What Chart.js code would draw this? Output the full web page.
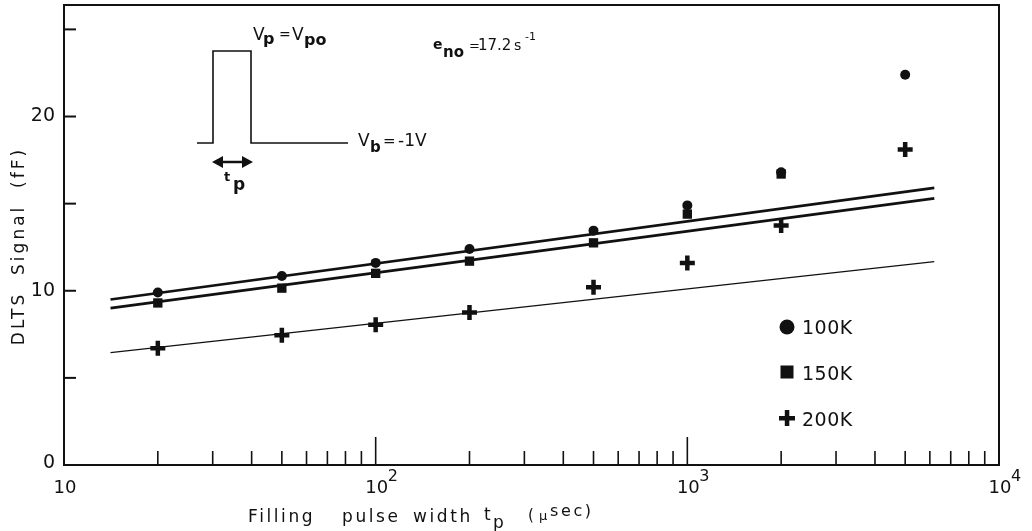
<!DOCTYPE html>
<html>
<head>
<meta charset="utf-8">
<script src="https://cdn.jsdelivr.net/npm/chart.js@4.4.1/dist/chart.umd.min.js"></script>
<style>
  html, body { margin: 0; padding: 0; background: #fff; }
  #wrap { width: 1032px; height: 531px; }
</style>
</head>
<body>
<div id="wrap"><canvas id="dltsChart"></canvas></div>
<script>
// filling pulse widths (µs)
const pulseWidths = [20, 50, 100, 200, 500, 1000, 2000, 5000];
// DLTS signal (fF) per temperature
const signal100K = [9.9, 10.85, 11.6, 12.4, 13.45, 14.9, 16.8, 22.4];
const signal150K = [9.3, 10.15, 11.0, 11.7, 12.75, 14.4, 16.7, null];
const signal200K = [6.7, 7.45, 8.05, 8.75, 10.2, 11.6, 13.75, 18.1];
// fitted straight lines, start and end
const fitX = [14.1, 6200];
const fit100K = [9.5, 15.9];
const fit150K = [9.0, 15.3];
const fit200K = [6.45, 11.67];
// axes
const xDecades = [10, 100, 1000, 10000];
const xDecadeExp = ['', '2', '3', '4'];
const yTicks = [5, 10, 15, 20, 25];
const yLabels = [0, 10, 20];

const INK = '#111';
const FONT = '"DejaVu Sans", sans-serif';

function toPoints(xs, ys) {
    return xs.map((x, i) => ({ x: x, y: ys[i] })).filter(p => p.y !== null);
}

// text pieces placed one by one: [text, x, baseline y, size, bold]
function drawPieces(ctx, pieces) {
    pieces.forEach(function (p) {
        ctx.font = (p[4] ? 'bold ' : '') + p[3] + 'px ' + FONT;
        ctx.fillText(p[0], p[1], p[2]);
    });
}

const decorations = {
    id: 'decorations',
    afterDatasetsDraw: function (chart) {
        const ctx = chart.ctx;
        const a = chart.chartArea;
        const xs = chart.scales.x, ys = chart.scales.y;
        ctx.save();
        ctx.strokeStyle = INK;
        ctx.fillStyle = INK;

        // frame
        ctx.lineWidth = 2;
        ctx.strokeRect(a.left, a.top, a.right - a.left, a.bottom - a.top);

        // x ticks, pointing up into the plot
        ctx.lineWidth = 1.6;
        [10, 100, 1000].forEach(function (d) {
            for (let k = 1; k <= 9; k++) {
                const v = d * k;
                if (v <= 10) continue;
                const px = xs.getPixelForValue(v);
                const len = k === 1 ? 28 : 14;
                ctx.beginPath();
                ctx.moveTo(px, a.bottom);
                ctx.lineTo(px, a.bottom - len);
                ctx.stroke();
            }
        });
        // y ticks
        ctx.lineWidth = 2;
        yTicks.forEach(function (v) {
            const py = ys.getPixelForValue(v);
            ctx.beginPath();
            ctx.moveTo(a.left, py);
            ctx.lineTo(a.left + 12, py);
            ctx.stroke();
        });

        // y labels
        ctx.font = '19px ' + FONT;
        ctx.textAlign = 'right';
        ctx.textBaseline = 'middle';
        yLabels.forEach(function (v) {
            ctx.fillText(String(v), a.left - 9, ys.getPixelForValue(v) - (v === 0 ? 2 : 0));
        });

        // x labels with exponents
        ctx.textBaseline = 'alphabetic';
        xDecades.forEach(function (v, i) {
            const px = xs.getPixelForValue(v);
            ctx.font = '18px ' + FONT;
            ctx.textAlign = 'center';
            ctx.fillText('10', px + 1, a.bottom + 28);
            if (xDecadeExp[i]) {
                ctx.font = '16px ' + FONT;
                ctx.textAlign = 'left';
                ctx.fillText(xDecadeExp[i], px + 12, a.bottom + 16);
            }
        });

        // axis titles
        ctx.textAlign = 'center';
        ctx.save();
        ctx.translate(20, 246);
        ctx.rotate(-Math.PI / 2);
        ctx.font = '17px ' + FONT;
        ctx.letterSpacing = '3px';
        ctx.textBaseline = 'middle';
        ctx.fillText('DLTS  Signal  (fF)', 0, 0);
        ctx.restore();

        ctx.textAlign = 'left';
        ctx.textBaseline = 'alphabetic';
        ctx.letterSpacing = '2.6px';
        ctx.font = '17px ' + FONT;
        ctx.fillText('Filling', 248, 522);
        ctx.fillText('pulse', 342, 522);
        ctx.fillText('width', 413, 522);
        ctx.fillText('t', 484, 520);
        ctx.fillText('p', 493, 528);
        ctx.font = '15px ' + FONT;
        ctx.fillText('(', 528, 520);
        ctx.font = '13px ' + FONT;
        ctx.fillText('\u03bc', 539, 520);
        ctx.font = '16px ' + FONT;
        ctx.fillText('sec)', 550, 516);
        ctx.letterSpacing = '0px';

        // pulse sketch
        ctx.lineWidth = 1.6;
        ctx.beginPath();
        ctx.moveTo(197, 143);
        ctx.lineTo(213, 143);
        ctx.lineTo(213, 51);
        ctx.lineTo(251, 51);
        ctx.lineTo(251, 143);
        ctx.lineTo(348, 143);
        ctx.stroke();
        // double arrow
        ctx.lineWidth = 2.5;
        ctx.beginPath();
        ctx.moveTo(219, 162);
        ctx.lineTo(246, 162);
        ctx.stroke();
        ctx.beginPath();
        ctx.moveTo(212, 162); ctx.lineTo(223, 156); ctx.lineTo(223, 168); ctx.closePath();
        ctx.moveTo(253, 162); ctx.lineTo(242, 156); ctx.lineTo(242, 168); ctx.closePath();
        ctx.fill();
        drawPieces(ctx, [['t', 224, 181, 13, true], ['p', 233, 190, 17, true]]);

        drawPieces(ctx, [
            ['V', 253, 40, 17], ['p', 263, 44, 16, true], ['=', 279, 39, 14],
            ['V', 292, 40, 17], ['po', 304, 45, 16, true]
        ]);
        drawPieces(ctx, [['V', 358, 146, 17], ['b', 370, 152, 15, true], ['=', 383, 146, 15], ['-1V', 398, 146, 17]]);
        drawPieces(ctx, [
            ['e', 433, 49, 14, true], ['no', 443, 57, 15, true], ['=', 469, 50, 13],
            ['17.2', 478, 50, 15], ['s', 514, 50, 14], ['-1', 525, 40, 11]
        ]);

        // legend
        const lx = 787;
        ctx.beginPath();
        ctx.arc(lx, 327, 7.5, 0, Math.PI * 2);
        ctx.fill();
        ctx.fillRect(lx - 6.5, 365.5, 13, 13);
        ctx.fillRect(lx - 8, 416, 16, 4.5);
        ctx.fillRect(lx - 2.2, 410, 4.5, 16);
        ctx.font = '19px ' + FONT;
        ctx.letterSpacing = '0.5px';
        ctx.fillText('100K', 802, 334);
        ctx.fillText('150K', 802, 380);
        ctx.fillText('200K', 802, 426);

        ctx.restore();
    }
};

new Chart(document.getElementById('dltsChart').getContext('2d'), {
    type: 'scatter',
    data: {
        datasets: [
            {
                label: '100K',
                data: toPoints(pulseWidths, signal100K),
                pointStyle: 'circle',
                pointRadius: 5,
                backgroundColor: INK,
                borderColor: INK,
                borderWidth: 0
            },
            {
                label: '150K',
                data: toPoints(pulseWidths, signal150K),
                pointStyle: 'rect',
                pointRadius: 6.6,
                backgroundColor: INK,
                borderColor: INK,
                borderWidth: 0
            },
            {
                label: '200K',
                data: toPoints(pulseWidths, signal200K),
                pointStyle: 'cross',
                pointRadius: 7.5,
                backgroundColor: INK,
                borderColor: INK,
                borderWidth: 4.5
            },
            {
                label: 'fit 100K',
                data: toPoints(fitX, fit100K),
                showLine: true,
                pointRadius: 0,
                borderColor: INK,
                borderWidth: 2.7
            },
            {
                label: 'fit 150K',
                data: toPoints(fitX, fit150K),
                showLine: true,
                pointRadius: 0,
                borderColor: INK,
                borderWidth: 2.7
            },
            {
                label: 'fit 200K',
                data: toPoints(fitX, fit200K),
                showLine: true,
                pointRadius: 0,
                borderColor: INK,
                borderWidth: 1.4
            }
        ]
    },
    options: {
        responsive: true,
        maintainAspectRatio: false,
        animation: false,
        layout: { autoPadding: false, padding: { left: 64, right: 33, top: 5, bottom: 66 } },
        plugins: {
            legend: { display: false },
            tooltip: { enabled: false }
        },
        scales: {
            x: { type: 'logarithmic', min: 10, max: 10000, display: false },
            y: { type: 'linear', min: 0, max: 26.4, display: false }
        }
    },
    plugins: [decorations]
});
</script>
</body>
</html>
